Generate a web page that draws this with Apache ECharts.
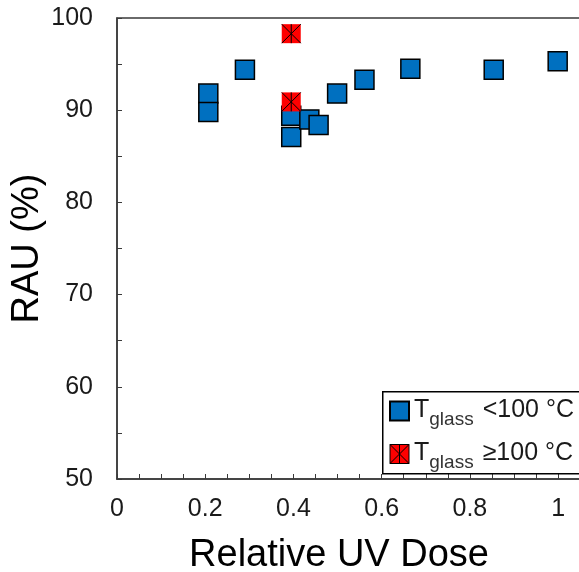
<!DOCTYPE html>
<html>
<head>
<meta charset="utf-8">
<script src="https://cdn.jsdelivr.net/npm/echarts@6/dist/echarts.min.js"></script>
<style>html,body{margin:0;padding:0;background:#fff;}#c{width:579px;height:572px;}</style>
</head>
<body>
<div id="c"></div>
<script>
// Data
const lowX = [0.207, 0.207, 0.290, 0.395, 0.395, 0.436, 0.457, 0.499, 0.561, 0.665, 0.854, 0.999];
const lowY = [91.8, 89.8, 94.4, 89.4, 87.1, 89.0, 88.4, 91.8, 93.3, 94.5, 94.4, 95.3];
const highX = [0.395, 0.395];
const highY = [98.3, 90.9];
const xTickLabels = ['0', '0.2', '0.4', '0.6', '0.8', '1'];
const yTickLabels = ['50', '60', '70', '80', '90', '100'];
const seriesNames = ['lt', 'ge'];
const legendTexts = {lt: '<100 °C', ge: '≥100 °C'};

const FONT = 'Liberation Sans, Arial, sans-serif';
const pts = (xs, ys) => xs.map((x, i) => [x, ys[i]]);

const chart = echarts.init(document.getElementById('c'), null, {renderer: 'canvas'});
chart.setOption({
  animation: false,
  backgroundColor: '#fff',
  grid: {left: 117, top: 18, right: -10, bottom: 93, outerBoundsMode: 'none', containLabel: false,
         show: true, borderColor: '#3a3a3a', borderWidth: 1.5, backgroundColor: 'transparent'},
  xAxis: {
    type: 'value', min: 0, max: 1.07, interval: 0.05,
    axisLine: {lineStyle: {color: '#3a3a3a', width: 1.5}},
    axisTick: {inside: true, length: 5, lineStyle: {color: '#3a3a3a', width: 1}},
    splitLine: {show: false},
    axisLabel: {
      margin: 18, fontSize: 25, color: '#1a1a1a', fontFamily: FONT,
      formatter: v => {
        const k = Math.round(v * 5);
        if (Math.abs(v * 5 - k) < 1e-6 && k < xTickLabels.length) return xTickLabels[k];
        return '';
      }
    },
    name: 'Relative UV Dose', nameLocation: 'middle', nameGap: 58, nameMoveOverlap: false,
    nameTextStyle: {fontSize: 38, color: '#000', fontFamily: FONT, padding: [0, 28, 0, 0]}
  },
  yAxis: {
    type: 'value', min: 50, max: 100, interval: 5,
    axisLine: {show: true, lineStyle: {color: '#3a3a3a', width: 1.5}},
    axisTick: {show: true, inside: true, length: 5, lineStyle: {color: '#3a3a3a', width: 1}},
    splitLine: {show: false},
    axisLabel: {
      margin: 24, fontSize: 25, color: '#1a1a1a', fontFamily: FONT,
      formatter: v => {
        const k = Math.round((v - 50) / 10);
        if (Math.abs((v - 50) / 10 - k) < 1e-6) return yTickLabels[k];
        return '';
      }
    },
    name: 'RAU (%)', nameLocation: 'middle', nameGap: 70, nameMoveOverlap: false,
    nameTextStyle: {fontSize: 38, color: '#000', fontFamily: FONT}
  },
  graphic: [
    {type: 'rect', left: 382, top: 391, z: 10, silent: true,
     shape: {width: 230, height: 82},
     style: {fill: '#fff', stroke: '#000', lineWidth: 1.5}}
  ],
  legend: {
    orient: 'vertical', left: 382, top: 391, z: 20,
    padding: [7, 0, 0, 7], itemGap: 12, itemWidth: 19, itemHeight: 19, itemTextGap: 8,
    data: [
      {name: 'lt', icon: 'rect'},
      {name: 'ge', icon: 'path://M0,0H10V10H0Z M0,0L10,10 M10,0L0,10 M5,0L5,10', itemStyle: {borderColor: '#000', borderWidth: 1}}
    ],
    formatter: n => '{t|T}{s|glass}{v|' + legendTexts[n] + '}',
    textStyle: {
      fontFamily: FONT, color: '#1a1a1a',
      rich: {
        t: {fontSize: 25, lineHeight: 26, fontFamily: FONT, color: '#1a1a1a', verticalAlign: 'top'},
        s: {fontSize: 19, lineHeight: 19, padding: [12, 0, 0, 0], fontFamily: FONT, color: '#333', verticalAlign: 'top'},
        v: {fontSize: 25, lineHeight: 26, padding: [0, 0, 0, 9], fontFamily: FONT, color: '#1a1a1a', verticalAlign: 'top'}
      }
    }
  },
  series: [
    {
      name: seriesNames[0], type: 'scatter', symbol: 'rect', symbolSize: 19,
      itemStyle: {color: '#0070C0', borderColor: '#000', borderWidth: 1.5, opacity: 1},
      emphasis: {disabled: true},
      data: pts(lowX, lowY)
    },
    {
      name: seriesNames[1], type: 'scatter', symbol: 'rect', symbolSize: 19,
      itemStyle: {color: '#FF0000', borderWidth: 0, opacity: 1},
      emphasis: {disabled: true},
      data: pts(highX, highY)
    },
    {
      name: 'ge-mark', type: 'scatter', symbol: 'path://M0,0L10,10M10,0L0,10M5,0L5,10', symbolSize: 19,
      itemStyle: {color: 'transparent', borderColor: '#000', borderWidth: 1, opacity: 1},
      emphasis: {disabled: true}, silent: true,
      data: pts(highX, highY)
    }
  ]
});
</script>
</body>
</html>
